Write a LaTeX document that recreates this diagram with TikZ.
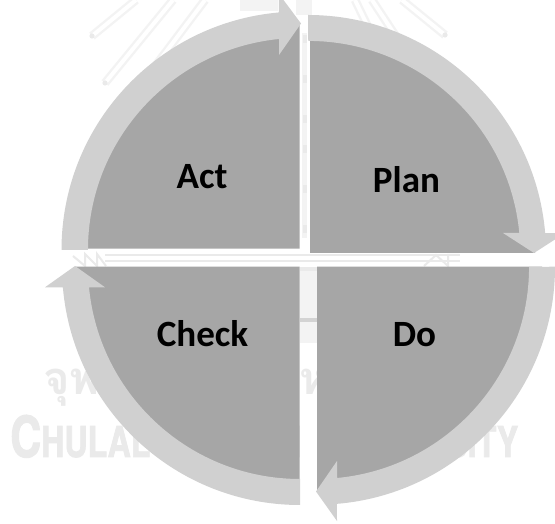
\documentclass[tikz,border=0pt]{standalone}
\usepackage{fontspec}
\setmainfont{Carlito}
\newfontfamily\wmfont[BoldFeatures={FakeBold=2}]{TeX Gyre Heros}
\newfontfamily\thaifont[Script=Thai]{Loma}
\definecolor{sector}{HTML}{A6A6A6}
\definecolor{band}{HTML}{D0D0D0}
\definecolor{wm}{HTML}{EAEAEA}
\definecolor{wmpale}{HTML}{F3F3F3}
\tikzset{
  sectorfill/.style={fill=sector,draw=none},
  bandfill/.style={fill=band,draw=none},
  pdcalabel/.style={font=\fontsize{27.8}{32}\selectfont\bfseries,text=black,inner sep=0pt,anchor=base},
  wmtext/.style={text=wm,inner sep=0pt,anchor=base west},
  penshape/.style={draw=wmpale,line width=6.5pt},
  penin/.style={draw=white,line width=3pt},
  ornament/.style={draw=wm,line width=1.5pt}
}
% \penray{x top}{y top}{x tip}{y tip}
\newcommand{\penray}[4]{%
  \draw[penshape] (#1,#2) -- (#3,#4);
  \draw[penin] (#1,#2) -- (#3,#4);
  \fill[wm] (#3,#4) circle[radius=2.6];
}
\begin{document}
\begin{tikzpicture}[x=0.75pt,y=0.75pt]
\useasboundingbox (0,0) rectangle (555,523);
\clip (0,0) rectangle (555,523);
\fill[white] (0,0) rectangle (555,523);

% watermark behind the diagram
\penray{136}{523}{92}{487}
\penray{173}{523}{105}{440}
\penray{205}{523}{135}{430}
\penray{355}{523}{400}{430}
\penray{372}{523}{420}{450}
\penray{402}{523}{445}{488}
\fill[wmpale] (240,523) rectangle (278,512);
\fill[wmpale] (296,523) rectangle (312,508);
% horizontal bar
\fill[wm] (105,268.5) rectangle (460,267);
\fill[wm] (105,263) rectangle (460,261);
\draw[ornament] (73,267) -- (85,257) -- (85,269) -- (97,257) -- (97,269) -- (106,257);
\draw[ornament] (424,257) -- (436,268) -- (448,257) -- (448,268) -- (459,268);
% central column
\fill[wmpale] (302,285) rectangle (307,490);
\foreach \yy in {290,330,370,400,440,480} \fill[wm] (302.5,\yy) rectangle (306.5,\yy+8);
% watermark text
\node[wmtext] (thai) at (43,128) {\thaifont\bfseries\fontsize{34}{38}\selectfont จุฬาลงกรณ์มหาวิทยาลัย};
\node[wmtext] (uni) at (10,66) {\resizebox{381pt}{31.5pt}{\wmfont\bfseries\fontsize{56}{60}\selectfont C\fontsize{42}{60}\selectfont HULALONGKORN UNIVERSITY}};
% gap below the centre stays clear of the lettering, with the column's marks
\fill[white] (300,18) rectangle (317,120);
\fill[wmpale] (300,180) rectangle (317,256);
\fill[wm] (300,252) rectangle (317,256);
\fill[wm!90!black] (300,201) rectangle (317,205);

% Act
\fill[sectorfill] (299.5,274.3) -- (75,274.3) arc[start angle=180,end angle=90,radius=224.5] -- cycle;
\fill[bandfill] (61.5,273) arc[start angle=180,end angle=95.06,radius=238.5]
  -- (279,529) -- (301,499.5) -- (279,468)
  -- (279,484) arc[start angle=95.68,end angle=180,radius=212] -- cycle;
% Plan
\fill[sectorfill] (310,270) -- (310,495) arc[start angle=90,end angle=0,radius=225] -- cycle;
\fill[bandfill] (308,508) arc[start angle=90,end angle=4.8,radius=238]
  -- (565,290) -- (534,270) -- (503,290)
  -- (519.3,290) arc[start angle=5.4,end angle=90,radius=212] -- cycle;
% Do
\fill[sectorfill] (317,256.3) -- (542,256.3) arc[start angle=0,end angle=-90,radius=225] -- cycle;
\fill[bandfill] (555,256.3) arc[start angle=0,end angle=-85.2,radius=238]
  -- (337,2) -- (316,31.5) -- (337,62)
  -- (337,45) arc[start angle=-84.6,end angle=0,radius=212] -- cycle;
% Check
\fill[sectorfill] (299.5,256.3) -- (75,256.3) arc[start angle=180,end angle=270,radius=224.5] -- cycle;
\fill[bandfill] (300,18) arc[start angle=270,end angle=184.9,radius=238]
  -- (45,235.7) -- (75,257) -- (105,235.7)
  -- (89,235.7) arc[start angle=185.5,end angle=270,radius=212] -- cycle;

% labels
\node[pdcalabel] (act) at (202,334) {Act};
\node[pdcalabel] (plan) at (406.5,330) {Plan};
\node[pdcalabel] (check) at (202.5,176) {Check};
\node[pdcalabel] (do) at (414.5,176) {Do};
\end{tikzpicture}
\end{document}
